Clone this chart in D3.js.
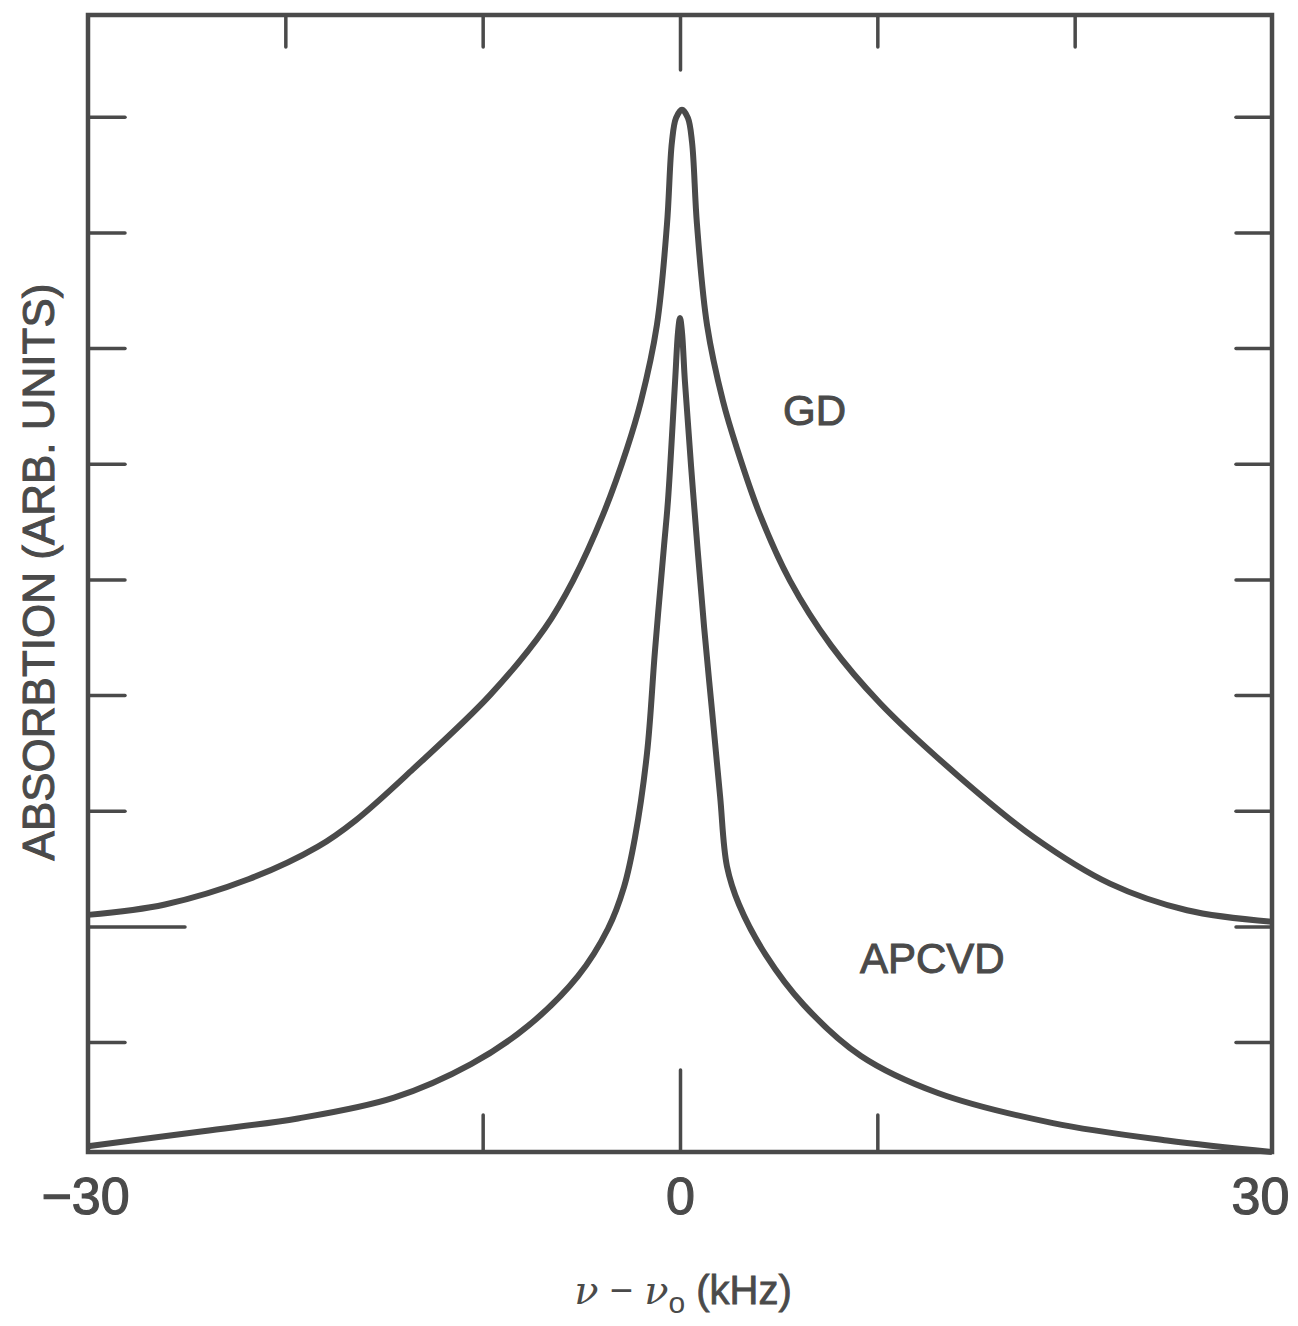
<!DOCTYPE html>
<html>
<head>
<meta charset="utf-8">
<script src="https://cdn.jsdelivr.net/npm/d3@7"></script>
<style>
  html, body { margin: 0; padding: 0; background: #fff; }
  svg { display: block; }
</style>
</head>
<body>
<div id="chart"></div>
<script>
// frequency offset (kHz) and absorption (arb. units)
const gdX = [-30, -26.1, -21.84, -18.35, -16.42, -13.53, -9.63, -6.84, -5.42, -3.9, -2.69, -1.98, -1.17, -0.66, -0.41, -0.2, 0.1, 0.4, 0.61, 0.86, 1.37, 2.18, 2.89, 4.05, 5.57, 7.65, 10.14, 14.04, 17.94, 21.79, 25.69, 30];
const gdY = [2.1, 2.19, 2.41, 2.69, 2.92, 3.36, 4.0, 4.58, 4.99, 5.56, 6.13, 6.54, 7.2, 8.07, 8.78, 8.99, 9.06, 8.99, 8.78, 8.07, 7.2, 6.54, 6.13, 5.56, 4.99, 4.43, 3.93, 3.31, 2.77, 2.37, 2.14, 2.04];

const apX = [-30, -24.17, -19.36, -14.49, -10.59, -7.7, -5.17, -3.65, -2.84, -2.28, -1.67, -1.27, -0.81, -0.61, -0.25, -0.1, 0, 0.1, 0.25, 0.66, 1.22, 1.62, 2.03, 2.38, 2.99, 4.36, 6.28, 9.17, 13.07, 18.9, 24.68, 30];
const apY = [0.1, 0.23, 0.34, 0.52, 0.81, 1.14, 1.57, 1.98, 2.34, 2.77, 3.5, 4.38, 5.29, 5.68, 6.71, 7.14, 7.26, 7.14, 6.71, 5.76, 4.59, 3.87, 3.13, 2.52, 2.19, 1.75, 1.32, 0.88, 0.56, 0.3, 0.15, 0.05];

const xLabelTicks = [-30, 0, 30];
const xTopTicks = [-20, -10, 0, 10, 20];
const xBottomTicks = [-10, 0, 10];
const yTicks = [1, 2, 3, 4, 5, 6, 7, 8, 9];

const ink = "#4a4a4a";
const W = 1298, H = 1326;
const margin = { left: 88, right: 1272, top: 15, bottom: 1152 };

const svg = d3.select("#chart").append("svg")
  .attr("width", W)
  .attr("height", H)
  .style("font-family", "'Liberation Sans', Arial, Helvetica, sans-serif");

svg.append("rect").attr("width", W).attr("height", H).attr("fill", "#fff");

const x = d3.scaleLinear().domain([-30, 30]).range([margin.left, margin.right]);
const y = d3.scaleLinear().domain([0.05, 9.88]).range([margin.bottom, margin.top]);

// ticks pointing inward, no labels
function styleAxis(g) {
  g.select(".domain").remove();
  g.selectAll(".tick line").attr("stroke", ink).attr("stroke-width", 3.5).attr("stroke-linecap", "round");
  g.selectAll(".tick text").remove();
}

svg.append("g")
  .attr("transform", `translate(${margin.left},0)`)
  .call(d3.axisLeft(y).tickValues(yTicks).tickSize(-37))
  .call(styleAxis)
  .selectAll(".tick line")
  .filter(d => d === 2)
  .attr("x2", 97);

svg.append("g")
  .attr("transform", `translate(${margin.right},0)`)
  .call(d3.axisRight(y).tickValues(yTicks).tickSize(-36))
  .call(styleAxis);

svg.append("g")
  .attr("transform", `translate(0,${margin.top})`)
  .call(d3.axisTop(x).tickValues(xTopTicks).tickSize(-32))
  .call(styleAxis)
  .selectAll(".tick line")
  .filter(d => d === 0)
  .attr("y2", 55);

svg.append("g")
  .attr("transform", `translate(0,${margin.bottom})`)
  .call(d3.axisBottom(x).tickValues(xBottomTicks).tickSize(-37))
  .call(styleAxis)
  .selectAll(".tick line")
  .filter(d => d === 0)
  .attr("y2", -82);

// tick labels
svg.append("g")
  .attr("transform", `translate(0,${margin.bottom})`)
  .call(d3.axisBottom(x).tickValues(xLabelTicks).tickSize(0).tickPadding(0)
    .tickFormat(d => d < 0 ? "\u2212" + Math.abs(d) : String(d)))
  .call(g => g.select(".domain").remove())
  .selectAll("text")
  .attr("y", 62)
  .attr("dy", null)
  .attr("fill", ink)
  .attr("stroke", ink)
  .attr("stroke-width", 1.2)
  .style("font-size", "52px")
  .style("font-family", "'Liberation Sans', Arial, sans-serif")
  .attr("dx", d => d === 30 ? -12 : (d === -30 ? -3 : 0));

// curves
const line = d3.line()
  .x(d => x(d[0]))
  .y(d => y(d[1]))
  .curve(d3.curveCatmullRom.alpha(0.5));

const gdData = d3.zip(gdX, gdY);
const apData = d3.zip(apX, apY);

svg.append("path")
  .datum(gdData)
  .attr("d", line)
  .attr("fill", "none")
  .attr("stroke", ink)
  .attr("stroke-width", 6)
  .attr("stroke-linejoin", "round");

svg.append("path")
  .datum(apData)
  .attr("d", line)
  .attr("fill", "none")
  .attr("stroke", ink)
  .attr("stroke-width", 6)
  .attr("stroke-linejoin", "round");

// frame
svg.append("rect")
  .attr("x", margin.left)
  .attr("y", margin.top)
  .attr("width", margin.right - margin.left)
  .attr("height", margin.bottom - margin.top)
  .attr("fill", "none")
  .attr("stroke", ink)
  .attr("stroke-width", 4.5);

// curve labels
svg.append("text")
  .attr("x", 783)
  .attr("y", 425)
  .attr("fill", ink)
  .attr("stroke", ink)
  .attr("stroke-width", 1)
  .style("font-size", "42px")
  .text("GD");

svg.append("text")
  .attr("x", 860)
  .attr("y", 973)
  .attr("fill", ink)
  .attr("stroke", ink)
  .attr("stroke-width", 1)
  .style("font-size", "42px")
  .text("APCVD");

// axis titles
svg.append("text")
  .attr("transform", "translate(54,572) rotate(-90)")
  .attr("text-anchor", "middle")
  .attr("fill", ink)
  .attr("stroke", ink)
  .attr("stroke-width", 1)
  .style("font-size", "44px")
  .text("ABSORBTION (ARB. UNITS)");

const xt = svg.append("text")
  .attr("x", 683)
  .attr("y", 1304)
  .attr("text-anchor", "middle")
  .attr("fill", ink)
  .style("font-size", "40px");
xt.append("tspan").style("font-style", "italic").style("font-family", "'DejaVu Serif', serif").text("\u03BD");
xt.append("tspan").text(" \u2212 ");
xt.append("tspan").style("font-style", "italic").style("font-family", "'DejaVu Serif', serif").text("\u03BD");
xt.append("tspan").attr("dy", 9).style("font-size", "30px").text("o");
xt.append("tspan").attr("dy", -9).attr("stroke", ink).attr("stroke-width", 0.8).text(" (kHz)");
</script>
</body>
</html>
